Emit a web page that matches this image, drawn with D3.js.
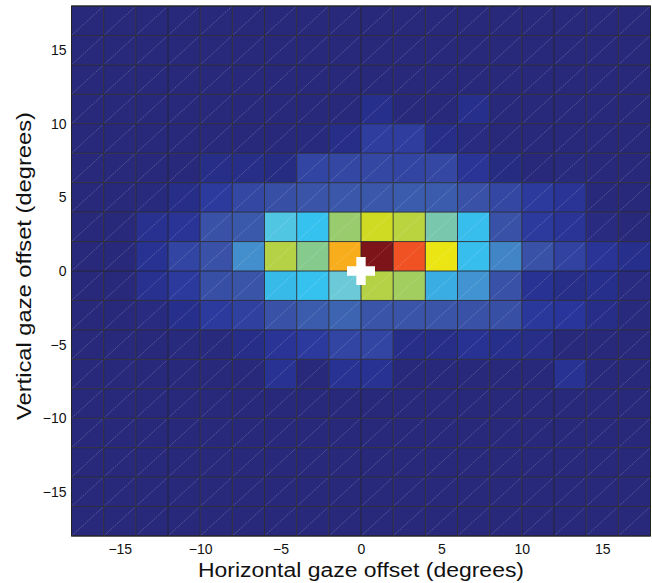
<!DOCTYPE html>
<html>
<head>
<meta charset="utf-8">
<script src="https://cdn.jsdelivr.net/npm/d3@7"></script>
<style>
  html, body { margin: 0; padding: 0; background: #ffffff; }
  svg { display: block; }
  text { font-family: "Liberation Sans", Arial, Helvetica, sans-serif; fill: #111; }
</style>
</head>
<body>
<div id="chart"></div>
<script>
// ---------------- DATA ----------------
// Bin edges (degrees), 2-degree bins from -18 to 18
const xBinStarts = [-18,-16,-14,-12,-10,-8,-6,-4,-2,0,2,4,6,8,10,12,14,16];
const yBinStarts = [16,14,12,10,8,6,4,2,0,-2,-4,-6,-8,-10,-12,-14,-16,-18]; // top row first
const binSize = 2;

// Normalised gaze density per bin (rows top -> bottom, columns left -> right)
const densityRows = [
  [0,0,0,0,0,0,0,0,0,0,0,0,0,0,0,0,0,0],
  [0,0,0,0,0,0,0,0,0,0,0,0,0,0,0,0,0,0],
  [0,0,0,0,0,0,0,0,0,0,0,0,0,0,0,0,0,0],
  [0,0,0,0,0,0,0,0,0,0.06,0,0,0.06,0,0,0,0,0],
  [0,0,0,0,0,0,0,0.01,0.05,0.13,0.13,0.05,0.02,0,0,0,0,0],
  [0,0,0,0,0.05,0.05,0.03,0.16,0.17,0.17,0.16,0.17,0.09,0.03,0,0.01,0,0],
  [0,0,0.01,0.05,0.12,0.17,0.20,0.22,0.23,0.23,0.25,0.25,0.21,0.17,0.12,0.09,0,0],
  [0,0,0.07,0.09,0.21,0.24,0.50,0.47,0.63,0.74,0.70,0.57,0.46,0.21,0.12,0.09,0.02,0],
  [0,0,0.08,0.16,0.21,0.37,0.69,0.60,0.86,1.00,0.91,0.80,0.46,0.35,0.21,0.15,0.09,0.06],
  [0,0,0.07,0.12,0.20,0.22,0.45,0.47,0.53,0.69,0.65,0.42,0.38,0.21,0.08,0.05,0.06,0.02],
  [0,0,0.02,0.06,0.12,0.14,0.21,0.25,0.28,0.22,0.22,0.22,0.21,0.20,0.11,0.10,0.05,0.01],
  [0,0,0,0.01,0.01,0.05,0.09,0.12,0.16,0.16,0.05,0.05,0.08,0.06,0.05,0,0,0],
  [0,0,0,0,0,0,0.08,0,0.08,0.08,0,0,0,0,0,0.08,0,0],
  [0,0,0,0,0,0,0,0,0,0,0,0,0,0,0,0,0,0],
  [0,0,0,0,0,0,0,0,0,0,0,0,0,0,0,0,0,0],
  [0,0,0,0,0,0,0,0,0,0,0,0,0,0,0,0,0,0],
  [0,0,0,0,0,0,0,0,0,0,0,0,0,0,0,0,0,0],
  [0,0,0,0,0,0,0,0,0,0,0,0,0,0,0,0,0,0]
];

// Fixation marker position (degrees)
const fixationPoints = [[0, 0]];

// Tick labels
const xTicks = [-15,-10,-5,0,5,10,15];
const yTicks = [-15,-10,-5,0,5,10,15];

const xLabel = "Horizontal gaze offset (degrees)";
const yLabel = "Vertical gaze offset (degrees)";

// Colour map (jet-like, as printed)
const cmapStops  = [0.00, 0.05, 0.10, 0.16, 0.22, 0.28, 0.37, 0.42, 0.47, 0.53, 0.58, 0.63, 0.69, 0.74, 0.80, 0.86, 0.91, 0.95, 1.00];
const cmapColors = ["#28297b","#272e88","#29359a","#3345a2","#3a54a8","#3c64b0","#438ecd","#3aaee2","#36c2ee","#6ccad8","#7cc8a4","#98cc6c","#b5d246","#cedb22","#ebe613","#f8ad1d","#f05223","#d52a26","#7d1419"];

// ---------------- LAYOUT ----------------
const W = 652, H = 583;
const margin = { left: 71.5, right: 1.5, top: 6, bottom: 47 };
const innerW = W - margin.left - margin.right;
const innerH = H - margin.top - margin.bottom;

const x = d3.scaleLinear().domain([-18, 18]).range([margin.left, margin.left + innerW]);
const y = d3.scaleLinear().domain([-18, 18]).range([margin.top + innerH, margin.top]);
const color = d3.scaleLinear().domain(cmapStops).range(cmapColors).interpolate(d3.interpolateRgb).clamp(true);

const svg = d3.select("#chart").append("svg").attr("width", W).attr("height", H);

// flatten cells
const cells = [];
densityRows.forEach((row, j) => row.forEach((v, i) => {
  cells.push({ x0: xBinStarts[i], y0: yBinStarts[j], v });
}));

const gCells = svg.append("g");
gCells.selectAll("rect.cell").data(cells).join("rect")
  .attr("class", "cell")
  .attr("x", d => x(d.x0))
  .attr("y", d => y(d.y0 + binSize))
  .attr("width", d => x(d.x0 + binSize) - x(d.x0))
  .attr("height", d => y(d.y0) - y(d.y0 + binSize))
  .attr("fill", d => color(d.v))
  .attr("stroke", "none");

// triangle-seam diagonals (bottom-left to top-right)
gCells.selectAll("line.diag").data(cells).join("line")
  .attr("class", "diag")
  .attr("x1", d => x(d.x0)).attr("y1", d => y(d.y0))
  .attr("x2", d => x(d.x0 + binSize)).attr("y2", d => y(d.y0 + binSize))
  .attr("stroke", "#ffffff").attr("stroke-opacity", 0.3).attr("stroke-width", 0.7)
  .attr("stroke-dasharray", "2,1");

// faceted cell edges
const edgesX = xBinStarts.concat([18]);
const edgesY = yBinStarts.concat([18]);
const gEdges = svg.append("g");
gEdges.selectAll("line.vx").data(edgesX).join("line")
  .attr("x1", d => x(d)).attr("x2", d => x(d))
  .attr("y1", y(-18)).attr("y2", y(18))
  .attr("stroke", "#24242c").attr("stroke-width", 1).attr("stroke-opacity", 0.85);
gEdges.selectAll("line.hy").data(edgesY).join("line")
  .attr("y1", d => y(d)).attr("y2", d => y(d))
  .attr("x1", x(-18)).attr("x2", x(18))
  .attr("stroke", "#24242c").attr("stroke-width", 1).attr("stroke-opacity", 0.85);

// fixation cross (arm span 28px, thickness ~9.3px)
const crossR = 28 / 6;
const crossSize = 5 * Math.pow(2 * crossR, 2);
svg.append("g").selectAll("path").data(fixationPoints).join("path")
  .attr("d", d3.symbol(d3.symbolCross, crossSize))
  .attr("transform", d => `translate(${x(d[0])},${y(d[1])})`)
  .attr("fill", "#ffffff");

// axes
const tickFont = 14;
const xAxis = d3.axisBottom(x).tickValues(xTicks).tickSize(0).tickPadding(8.5);
const yAxis = d3.axisLeft(y).tickValues(yTicks).tickSize(0).tickPadding(5);

const gx = svg.append("g").attr("transform", `translate(0,${margin.top + innerH})`).call(xAxis);
const gy = svg.append("g").attr("transform", `translate(${margin.left},0)`).call(yAxis);
[gx, gy].forEach(g => {
  g.select(".domain").remove();
  g.selectAll("text").attr("font-size", tickFont).attr("fill", "#111")
    .attr("font-family", '"Liberation Sans", Arial, Helvetica, sans-serif');
});

// frame
svg.append("rect")
  .attr("x", x(-18)).attr("y", y(18))
  .attr("width", x(18) - x(-18)).attr("height", y(-18) - y(18))
  .attr("fill", "none").attr("stroke", "#222").attr("stroke-width", 1);

// axis labels
svg.append("text")
  .attr("x", x(0)).attr("y", 576.5)
  .attr("text-anchor", "middle").attr("font-size", 20)
  .attr("textLength", 326).attr("lengthAdjust", "spacingAndGlyphs")
  .text(xLabel);
svg.append("text")
  .attr("transform", `translate(31,${y(0) - 5}) rotate(-90)`)
  .attr("text-anchor", "middle").attr("font-size", 20)
  .attr("textLength", 308).attr("lengthAdjust", "spacingAndGlyphs")
  .text(yLabel);
</script>
</body>
</html>
